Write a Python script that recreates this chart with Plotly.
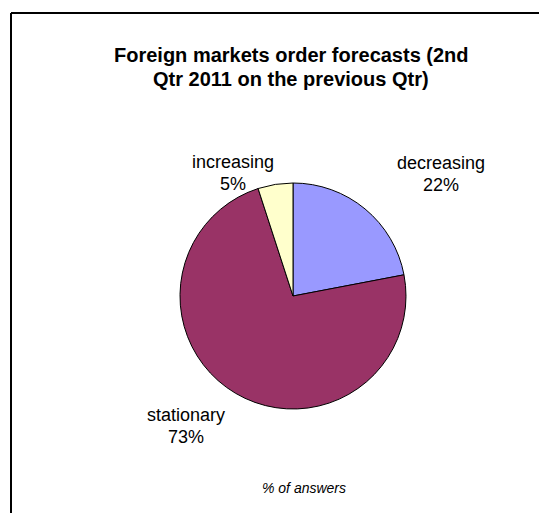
import plotly.graph_objects as go

categories = ["decreasing", "stationary", "increasing"]
values = [22, 73, 5]
colors = ["#9999FF", "#993366", "#FFFFCC"]
title_lines = ["Foreign markets order forecasts (2nd", "Qtr 2011 on the previous Qtr)"]

W, H = 547, 513
OFF = 8  # page body margin offset

def px(x):
    return (x - OFF) / W

def py(y):
    return 1 - (y - OFF) / H

cx, cy, r = 293, 296, 113

fig = go.Figure()
fig.add_trace(go.Pie(
    labels=categories,
    values=values,
    sort=False,
    direction="clockwise",
    rotation=0,
    marker=dict(colors=colors, line=dict(color="black", width=1)),
    textinfo="none",
    hoverinfo="label+percent",
    showlegend=False,
    domain=dict(x=[px(cx - r), px(cx + r)], y=[py(cy + r), py(cy - r)]),
))

label_pos = {
    "decreasing": (441, 174),
    "stationary": (186, 426),
    "increasing": (233, 173),
}
total = sum(values)
annotations = []
for cat, v in zip(categories, values):
    x, y = label_pos[cat]
    for i, t in enumerate([cat, f"{round(v / total * 100)}%"]):
        annotations.append(dict(
            x=px(x), y=py(y - 11 + 22 * i), xref="paper", yref="paper",
            text=t,
            showarrow=False, xanchor="center", yanchor="middle",
            font=dict(family="Liberation Sans, Arial", size=18, color="black"),
        ))

for i, t in enumerate(title_lines):
    annotations.append(dict(
        x=px(291), y=py(55 + 24 * i), xref="paper", yref="paper",
        text=f"<b>{t}</b>",
        showarrow=False, xanchor="center", yanchor="middle",
        font=dict(family="Liberation Sans, Arial", size=20, color="black"),
    ))
annotations.append(dict(
    x=px(304), y=py(488), xref="paper", yref="paper",
    text="<i>% of answers</i>",
    showarrow=False, xanchor="center", yanchor="middle",
    font=dict(family="Liberation Sans, Arial", size=14, color="black"),
))

fig.update_layout(
    width=W, height=H,
    margin=dict(l=0, r=0, t=0, b=0),
    paper_bgcolor="white",
    plot_bgcolor="white",
    annotations=annotations,
    shapes=[
        dict(type="line", xref="paper", yref="paper",
             x0=px(11), x1=1.05, y0=py(13), y1=py(13),
             line=dict(color="black", width=2)),
        dict(type="line", xref="paper", yref="paper",
             x0=px(11), x1=px(11), y0=py(13), y1=-0.05,
             line=dict(color="black", width=2)),
    ],
)

fig.write_html("out.html")
